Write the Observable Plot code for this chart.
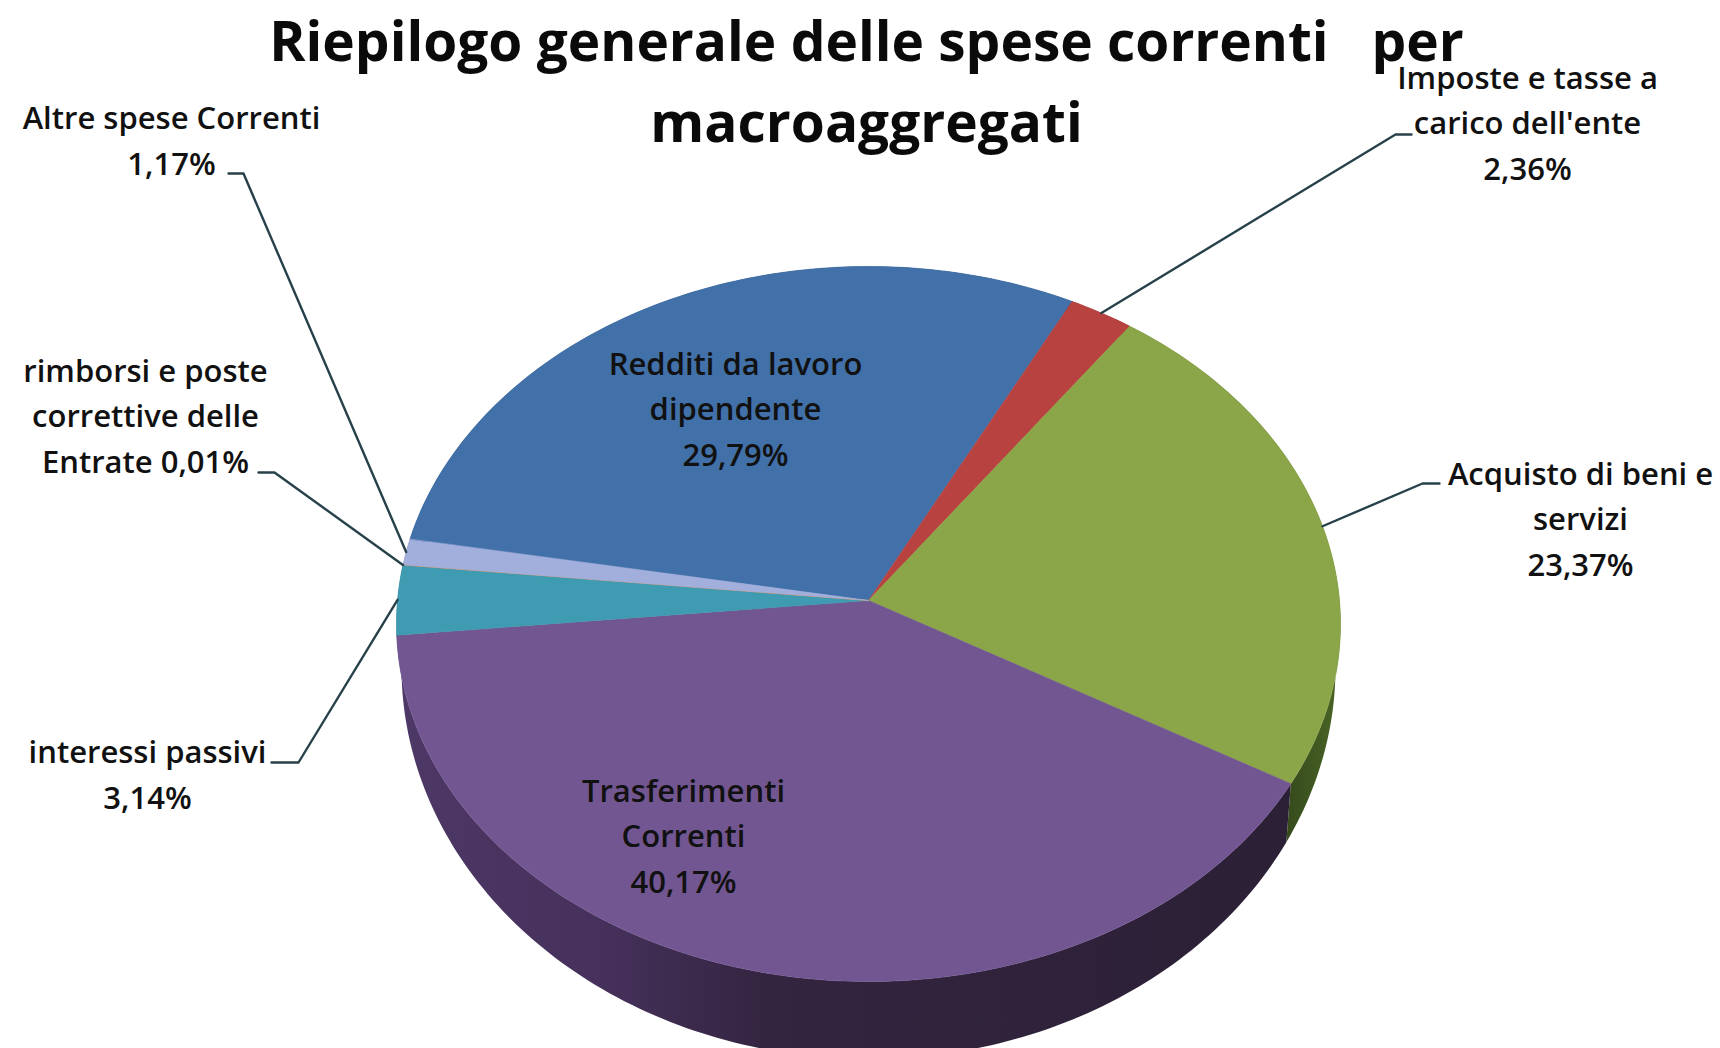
<!DOCTYPE html>
<html><head><meta charset="utf-8">
<script src="https://cdn.jsdelivr.net/npm/d3@7"></script>
<script src="https://cdn.jsdelivr.net/npm/@observablehq/plot@0.6"></script>
<style>html,body{margin:0;padding:0;background:#fff;overflow:hidden}svg{display:block}</style>
</head><body><div id="chart"></div>
<script>
// Data, clockwise from the left edge of "Redditi"
const categories = ["Redditi da lavoro dipendente","Imposte e tasse a carico dell'ente","Acquisto di beni e servizi","Trasferimenti Correnti","interessi passivi","rimborsi e poste correttive delle Entrate","Altre spese Correnti"];
const values = [29.79,2.36,23.37,40.17,3.14,0.01,1.17];
const labelLines = [
  ["Redditi da lavoro","dipendente","29,79%"],
  ["Imposte e tasse a","carico dell'ente","2,36%"],
  ["Acquisto di beni e","servizi","23,37%"],
  ["Trasferimenti","Correnti","40,17%"],
  ["interessi passivi","3,14%"],
  ["rimborsi e poste","correttive delle","Entrate 0,01%"],
  ["Altre spese Correnti","1,17%"]
];
const titleText = "Riepilogo generale delle spese correnti \u00a0 per\nmacroaggregati";

// Styles and layout
const topColors = ["#4270a9","#b8423f","#8ba648","#725692","#3f9bb1","#e08a3c","#a2aedb"];
const wallColors = ["#243d5c","#642423","url(#wallGreen)","url(#wallPurple)","#22545f","#7a4b20","#586077"];
const labelAt = [[735,405],[1527,119],[1580,515],[683,832],[147,771],[145,412],[171,137]];
const elbows = [null,[[1411,134],[1395,134]],[[1439,483],[1422,483]],null,[[271,762],[298,762]],[[258,472],[274,472]],[[228,173],[243,173]]];
const top3d = {cx:868,cy:600,a:471,b:356,p:0.0657};
const base3d = {cx:868,cy:641,a:466,b:390,p:0.0657};
const startDeg = -80;

const project = (g, deg) => {
  const t = deg*Math.PI/180, u = Math.sin(t), v = Math.cos(t), w = 1+g.p*v;
  return {x:g.cx+g.a*u/w, y:g.cy-g.b*v/w};
};
const total = d3.sum(values);
let acc = startDeg;
const slices = values.map((v,i)=>{
  const a0 = acc, a1 = acc + v/total*360; acc = a1;
  return {i,a0,a1,mid:(a0+a1)/2};
});
const arc = (g,a0,a1) => {
  const n = Math.max(2,Math.ceil(Math.abs(a1-a0)));
  return d3.range(n+1).map(k=>project(g,a0+(a1-a0)*k/n));
};

const defs = () => {
  const s = d3.create("svg:defs");
  const grad = (id,x1,x2,stops) => {
    const g = s.append("linearGradient").attr("id",id).attr("gradientUnits","userSpaceOnUse")
      .attr("x1",x1).attr("x2",x2).attr("y1",0).attr("y2",0);
    stops.forEach(([o,c])=>g.append("stop").attr("offset",o).attr("stop-color",c));
  };
  grad("wallPurple",400,1290,[[0,"#4d3866"],[0.22,"#46315c"],[0.42,"#33243f"],[1,"#2b2036"]]);
  grad("wallGreen",1285,1340,[[0,"#354a1c"],[1,"#4a6526"]]);
  return s.node();
};

const labelFont = {fontFamily:"'Open Sans', sans-serif", fontSize:31, fontWeight:600, lineHeight:1.47, fill:"#111"};

document.getElementById("chart").append(Plot.plot({
  width:1720, height:1048, margin:0,
  x:{domain:[0,1720],range:[0,1720],axis:null},
  y:{domain:[0,1048],range:[0,1048],axis:null},
  marks:[
    defs,
    ...slices.map(s=>Plot.line([...arc(top3d,s.a0,s.a1),...arc(base3d,s.a1,s.a0)],
      {x:"x",y:"y",fill:wallColors[s.i],curve:"linear-closed"})),
    ...slices.map(s=>Plot.line([project({...top3d,a:0,b:0},0),...arc(top3d,s.a0,s.a1)],
      {x:"x",y:"y",fill:topColors[s.i],stroke:topColors[s.i],strokeWidth:0.6,curve:"linear-closed"})),
    ...slices.filter(s=>elbows[s.i]).map(s=>{
      const pts=[...elbows[s.i].map(([x,y])=>({x,y})),project(top3d,s.mid)];
      return Plot.line(pts,{x:"x",y:"y",stroke:"#27414a",strokeWidth:2.4});
    }),
    Plot.text([titleText],{x:()=>866,y:()=>75,text:d=>d,lineAnchor:"middle",
      fontFamily:"'Open Sans', sans-serif",fontWeight:700,fontSize:55,lineHeight:1.47,fill:"#0a0a0a"}),
    Plot.text(slices,{x:s=>labelAt[s.i][0],y:s=>labelAt[s.i][1],text:s=>labelLines[s.i].join("\n"),lineAnchor:"middle",...labelFont})
  ]
}));
</script></body></html>
